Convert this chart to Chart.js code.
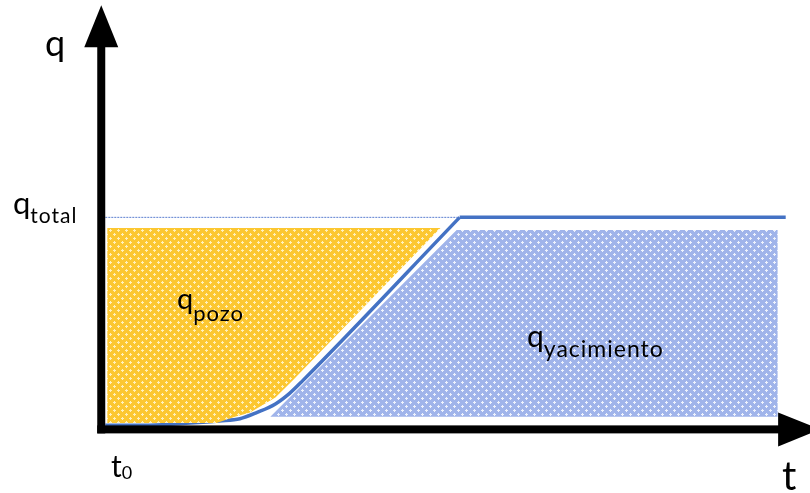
<!DOCTYPE html>
<html>
<head>
<meta charset="utf-8">
<script src="https://cdn.jsdelivr.net/npm/chart.js@4.4.1/dist/chart.umd.min.js"></script>
<style>
  body { margin: 0; background: #fff; }
  #wrap { width: 810px; height: 493px; position: relative; }
</style>
</head>
<body>
<div id="wrap"><canvas id="myChart"></canvas></div>
<script>
// caudal q vs tiempo t  (q_total = 1)
var curveT = [0.04, 0.48, 0.88, 1.17, 1.37, 1.54, 1.72, 1.86, 1.99, 3.54];
var curveQ = [0.02, 0.02, 0.03, 0.04, 0.05, 0.08, 0.12, 0.17, 0.23, 1.00];
var flatT = [3.54, 6.76];
var flatQ = [1.00, 1.00];

// q pozo (amarillo)
var pozoT = [0.06, 3.35, 1.89, 1.72, 1.47, 1.32, 1.14, 0.06];
var pozoQ = [0.95, 0.95, 0.23, 0.15, 0.08, 0.06, 0.03, 0.03];

// q yacimiento (azul)
var yacT = [1.67, 3.51, 6.68, 6.68];
var yacQ = [0.06, 0.94, 0.94, 0.06];

// linea q total
var totalT = [0.04, 3.54];
var totalQ = [1, 1];

var axisEndT = 7.1, axisEndQ = 2.0;

var notes = [
  { main: 'q', sub: '', t: -0.556, q: 1.76, size: 36, subSize: 0, dy: 0 },
  { main: 'q', sub: 'total', t: -0.872, q: 1.016, size: 31, subSize: 21, dy: 9 },
  { main: 'q', sub: 'pozo', t: 0.748, q: 0.568, size: 29, subSize: 22, dy: 12 },
  { main: 'q', sub: 'yacimiento', t: 4.205, q: 0.388, size: 30, subSize: 23, dy: 10 },
  { main: 't', sub: '0', t: 0.096, q: -0.225, size: 30, subSize: 18, dy: 2 },
  { main: 't', sub: '', t: 6.723, q: -0.286, size: 40, subSize: 0, dy: 0 }
];

function pts(ts, qs) {
  return ts.map(function (t, i) { return { x: t, y: qs[i] }; });
}

function pattern(base, dot) {
  var c = document.createElement('canvas');
  c.width = 8; c.height = 8;
  var g = c.getContext('2d');
  g.fillStyle = base; g.fillRect(0, 0, 8, 8);
  g.fillStyle = dot;
  [[2, 2], [6, 6]].forEach(function (p) {
    g.fillRect(p[0] - 1, p[1], 3, 1);
    g.fillRect(p[0], p[1] - 1, 1, 3);
  });
  return g.createPattern(c, 'repeat');
}

var drawExtras = {
  id: 'extras',
  afterDatasetsDraw: function (chart) {
    var ctx = chart.ctx, xs = chart.scales.x, ys = chart.scales.y;
    var x0 = xs.getPixelForValue(0), y0 = ys.getPixelForValue(0);
    var xe = xs.getPixelForValue(axisEndT), ye = ys.getPixelForValue(axisEndQ);
    var head = 42, half = 17, w = 8;
    ctx.save();
    ctx.fillStyle = '#000';
    // ejes
    ctx.fillRect(x0 - w / 2, ye + head - 1, w, y0 + w / 2 - (ye + head - 1));
    ctx.fillRect(x0 - w / 2, y0 - w / 2, xe - head + 1 - (x0 - w / 2), w);
    // flechas
    ctx.beginPath();
    ctx.moveTo(x0, ye); ctx.lineTo(x0 + half, ye + head); ctx.lineTo(x0 - half, ye + head);
    ctx.closePath(); ctx.fill();
    ctx.beginPath();
    ctx.moveTo(xe, y0); ctx.lineTo(xe - head, y0 - half); ctx.lineTo(xe - head, y0 + half);
    ctx.closePath(); ctx.fill();
    // textos
    ctx.textBaseline = 'alphabetic';
    ctx.textAlign = 'left';
    notes.forEach(function (n) {
      var px = xs.getPixelForValue(n.t), py = ys.getPixelForValue(n.q);
      ctx.letterSpacing = '0px';
      ctx.font = n.size + 'px Lato';
      ctx.fillText(n.main, px, py);
      if (n.sub) {
        var mw = ctx.measureText(n.main).width;
        ctx.font = n.subSize + 'px Lato';
        ctx.letterSpacing = n.sub.length > 1 ? '1px' : '0px';
        ctx.fillText(n.sub, px + mw, py + n.dy);
      }
    });
    ctx.restore();
  }
};

var lineBlue = '#4472c4';
var ctx = document.getElementById('myChart').getContext('2d');
var chart = new Chart(ctx, {
  type: 'line',
  data: {
    datasets: [
      {
        data: pts(pozoT, pozoQ),
        backgroundColor: pattern('#fcc731', '#fff0bd'),
        borderWidth: 0, pointRadius: 0, fill: 'shape', tension: 0
      },
      {
        data: pts(yacT, yacQ),
        backgroundColor: pattern('#a0b4ea', '#eef2fc'),
        borderWidth: 0, pointRadius: 0, fill: 'shape', tension: 0
      },
      {
        data: pts(totalT, totalQ),
        borderColor: '#5b7fd0', borderWidth: 1, borderDash: [2, 1],
        pointRadius: 0, fill: false, tension: 0
      },
      {
        data: pts(curveT, curveQ),
        borderColor: lineBlue, borderWidth: 3.5,
        pointRadius: 0, fill: false, cubicInterpolationMode: 'monotone'
      },
      {
        data: pts(flatT, flatQ),
        borderColor: lineBlue, borderWidth: 3.5,
        pointRadius: 0, fill: false, tension: 0
      }
    ]
  },
  options: {
    responsive: true,
    maintainAspectRatio: false,
    animation: false,
    layout: { padding: 0 },
    plugins: { legend: { display: false }, tooltip: { enabled: false } },
    scales: {
      x: { type: 'linear', min: -1, max: 7, display: false },
      y: { type: 'linear', min: -0.3, max: 2.025, display: false }
    }
  },
  plugins: [drawExtras]
});
</script>
</body>
</html>
